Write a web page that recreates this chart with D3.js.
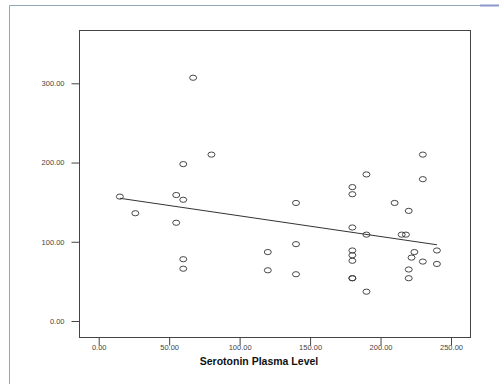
<!DOCTYPE html>
<html>
<head>
<meta charset="utf-8">
<script src="https://cdn.jsdelivr.net/npm/d3@7"></script>
<style>
  body { margin: 0; background: #fff; }
  svg { display: block; font-family: "Liberation Sans", Arial, sans-serif; }
</style>
</head>
<body>
<svg id="chart" width="499" height="384"></svg>
<script>
// serotonin plasma level (x) vs. the other measure (y)
const serotonin = [15, 26, 55, 55, 60, 60, 60, 60, 67, 80, 120, 120, 140, 140, 140,
  180, 180, 180, 180, 180, 180, 180, 180, 190, 190, 190, 210, 215, 218,
  220, 220, 220, 222, 224, 230, 230, 230, 240, 240];
const outcome = [157, 136, 159, 124, 198, 153, 78, 66, 307, 210, 87, 64, 149, 97, 59,
  169, 160, 118, 89, 83, 76, 54, 54, 185, 109, 37, 149, 109, 109,
  139, 65, 54, 80, 87, 210, 179, 75, 89, 72];
const xTicks = [0, 50, 100, 150, 200, 250];
const yTicks = [0, 100, 200, 300];
const xTitle = 'Serotonin Plasma Level';

const svg = d3.select('#chart');

// outer page frame
svg.append('path')
  .attr('d', 'M9.5,384V5.5H499')
  .style('fill', 'none')
  .style('stroke', '#8fa8b4');
svg.append('line')
  .attr('x1', 480).attr('x2', 499).attr('y1', 5.5).attr('y2', 5.5)
  .style('stroke', '#8a98c8').style('stroke-width', 2);

const box = { left: 79, top: 30, right: 470, bottom: 337 };

const x = d3.scaleLinear().domain([0, 250]).range([98.7, 451]);
const y = d3.scaleLinear().domain([0, 300]).range([321, 83.3]);

svg.append('rect')
  .attr('x', box.left + 0.5).attr('y', box.top + 0.5)
  .attr('width', box.right - box.left).attr('height', box.bottom - box.top)
  .style('fill', '#fff')
  .style('stroke', '#444');

const xAxis = svg.append('g')
  .attr('transform', `translate(0,${box.bottom + 0.5})`)
  .call(d3.axisBottom(x).tickValues(xTicks).tickSize(8).tickFormat(d3.format('.2f')));
const yAxis = svg.append('g')
  .attr('transform', `translate(${box.left + 0.5},0)`)
  .call(d3.axisLeft(y).tickValues(yTicks).tickSize(8).tickFormat(d3.format('.2f')));

[xAxis, yAxis].forEach(a => {
  a.select('.domain').remove();
  a.selectAll('line').style('stroke', '#444');
  a.selectAll('text')
    .style('font-size', '7.5px')
    .style('fill', '#444')
    .style('font-family', '"Liberation Sans", Arial, sans-serif');
});
xAxis.selectAll('text').attr('dy', '0.71em').attr('y', 7);
yAxis.selectAll('text').attr('x', -15);

svg.append('text')
  .attr('x', 259).attr('y', 365)
  .attr('text-anchor', 'middle')
  .style('font-size', '10.5px')
  .style('font-weight', 'bold')
  .style('fill', '#111')
  .text(xTitle);

// least squares fit line over the x range
const data = serotonin.map((v, i) => ({ x: v, y: outcome[i] }));
const mx = d3.mean(serotonin), my = d3.mean(outcome);
const slope = d3.sum(data, d => (d.x - mx) * (d.y - my)) / d3.sum(data, d => (d.x - mx) ** 2);
const icpt = my - slope * mx;
const [x0, x1] = d3.extent(serotonin);

svg.append('line')
  .attr('x1', x(x0)).attr('y1', y(icpt + slope * x0))
  .attr('x2', x(x1)).attr('y2', y(icpt + slope * x1))
  .style('stroke', '#333')
  .style('stroke-width', 1);

svg.append('g')
  .selectAll('ellipse')
  .data(data)
  .enter()
  .append('ellipse')
  .attr('cx', d => x(d.x))
  .attr('cy', d => y(d.y))
  .attr('rx', 3.5)
  .attr('ry', 2.6)
  .style('fill', 'none')
  .style('stroke', '#333')
  .style('stroke-width', 0.9);
</script>
</body>
</html>
